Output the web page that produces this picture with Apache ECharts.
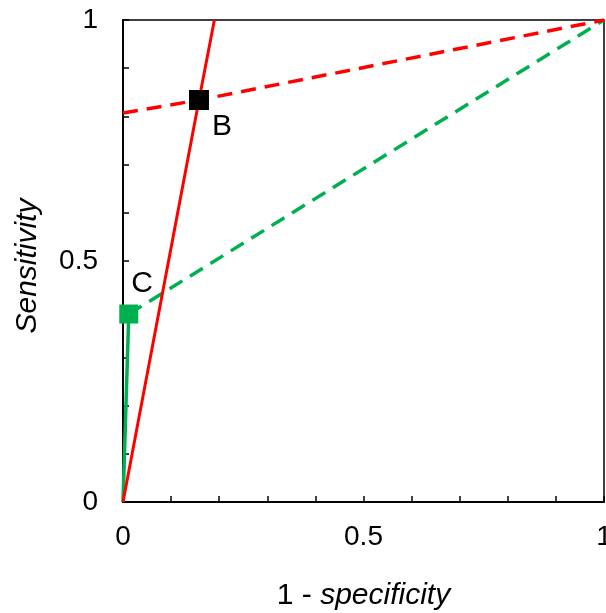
<!DOCTYPE html>
<html><head><meta charset="utf-8">
<script src="https://cdn.jsdelivr.net/npm/echarts@6/dist/echarts.min.js"></script>
<style>html,body{margin:0;padding:0;background:#fff}#c{width:606px;height:613px}</style>
</head><body><div id="c"></div>
<script>
const redSolid = [[0,0],[0.158,0.834],[0.19,1]];
const redDashed = [[0,0.807],[0.158,0.834],[1,1]];
const greenSolid = [[0,0],[0.012,0.39]];
const greenDashed = [[0.012,0.39],[1,1]];
const pointB = {name:'B', value:[0.158,0.834]};
const pointC = {name:'C', value:[0.012,0.39]};
const tickLabels = ['0','0.5','1'];

const fmt = v => { const s = (Math.round(v*10)/10).toString(); return tickLabels.includes(s) ? s : ''; };
const font = 'Liberation Sans, Arial, sans-serif';
const chart = echarts.init(document.getElementById('c'));
chart.setOption({
  animation:false,
  grid:{left:123,top:20,right:2,bottom:111,show:true,borderColor:'#000',borderWidth:1.5,containLabel:false,outerBoundsMode:'none'},
  xAxis:{type:'value',min:0,max:1,interval:0.1,
    axisLine:{onZero:false,lineStyle:{color:'#000',width:2}},
    axisTick:{inside:true,length:6,lineStyle:{color:'#000',width:1.5}},
    splitLine:{show:false},
    axisLabel:{formatter:fmt,color:'#000',fontSize:28,fontFamily:font,margin:21,showMaxLabel:true,hideOverlap:false},
    name:'{n|1 - }{i|specificity}',nameLocation:'middle',nameGap:79,
    nameTextStyle:{rich:{n:{fontSize:30,fontFamily:font,color:'#000'},i:{fontSize:30,fontFamily:font,fontStyle:'italic',color:'#000'}}}
  },
  yAxis:{type:'value',min:0,max:1,interval:0.1,
    axisLine:{onZero:false,lineStyle:{color:'#000',width:2}},
    axisTick:{inside:true,length:6,lineStyle:{color:'#000',width:1.5}},
    splitLine:{show:false},
    axisLabel:{formatter:fmt,color:'#000',fontSize:28,fontFamily:font,margin:25},
    name:'Sensitivity',nameLocation:'middle',nameGap:80,
    nameTextStyle:{fontSize:30,fontFamily:font,fontStyle:'italic',color:'#000',padding:[0,10,0,0]}
  },
  series:[
    {type:'line',data:greenDashed,symbol:'none',lineStyle:{color:'#00b050',width:3.5,type:[15,9]},z:2},
    {type:'line',data:redDashed,symbol:'none',lineStyle:{color:'#ff0000',width:3.5,type:[15,9]},z:2},
    {type:'line',data:greenSolid,symbol:'none',lineStyle:{color:'#00b050',width:3.5},z:3},
    {type:'line',data:redSolid,symbol:'none',lineStyle:{color:'#ff0000',width:3},z:3},
    {type:'scatter',data:[pointB],symbol:'rect',symbolSize:20,itemStyle:{color:'#000',opacity:1},z:5,
      label:{show:true,formatter:'{b}',position:'right',offset:[-2,27],fontSize:30,fontFamily:font,color:'#000'}},
    {type:'scatter',data:[pointC],symbol:'rect',symbolSize:19,itemStyle:{color:'#00b050',opacity:1},z:5,
      label:{show:true,formatter:'{b}',position:'right',offset:[-12,-30],fontSize:30,fontFamily:font,color:'#000'}}
  ]
});
</script></body></html>
